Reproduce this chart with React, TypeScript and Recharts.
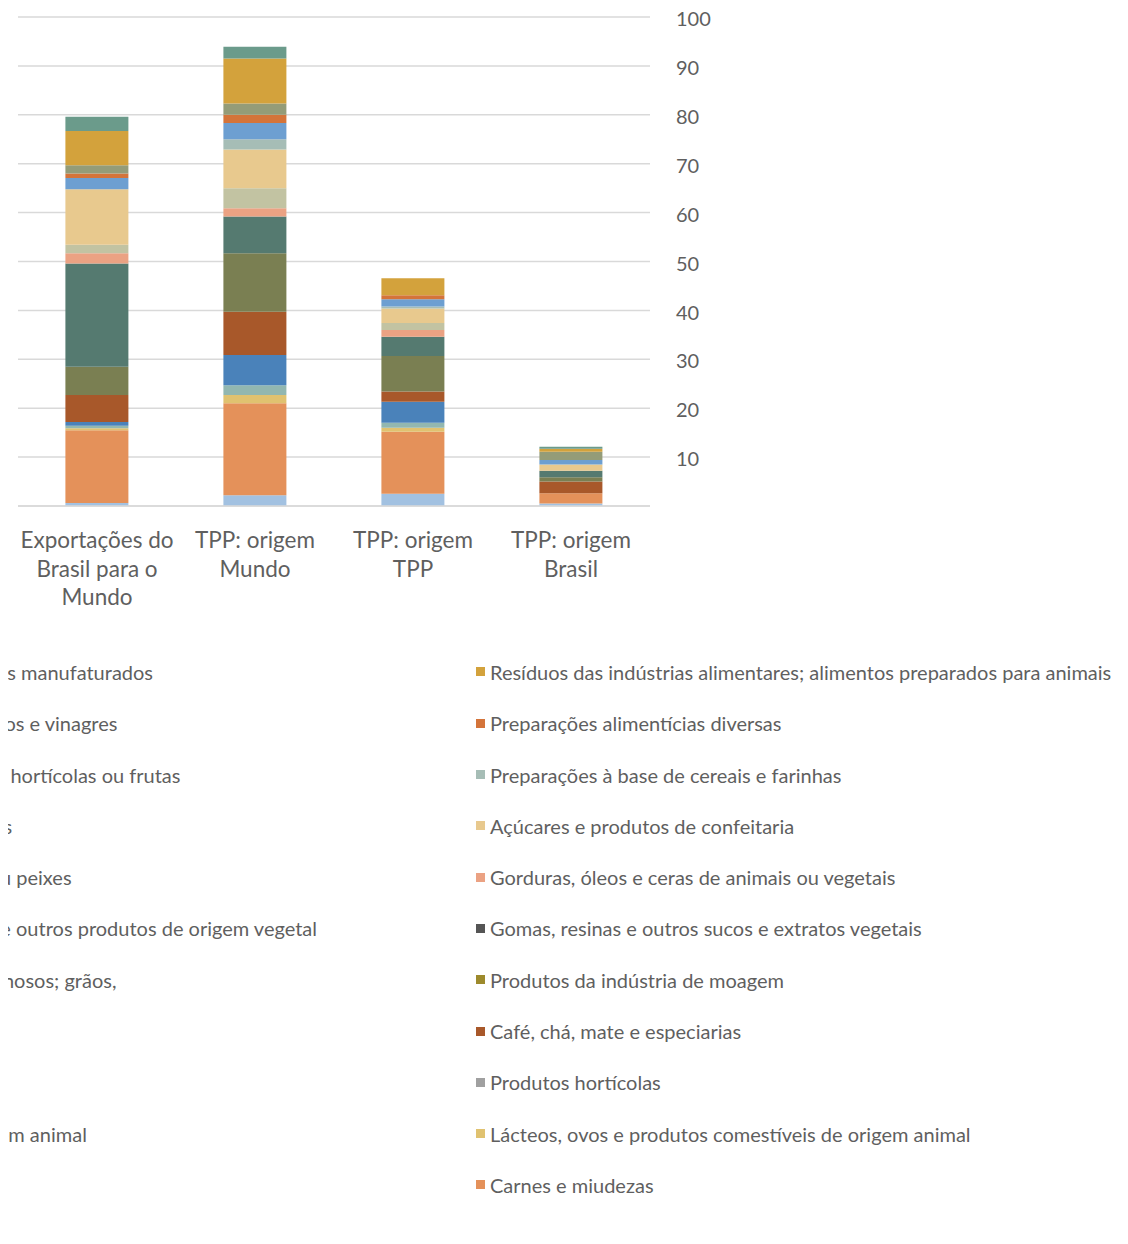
import React from 'react';
import { BarChart, Bar, XAxis, YAxis, CartesianGrid, Legend } from 'recharts';

// Categories (x axis), line breaks as in the original labels
const categories = [
  'Exportações do\nBrasil para o\nMundo',
  'TPP: origem\nMundo',
  'TPP: origem\nTPP',
  'TPP: origem\nBrasil',
];

const yTicks = [10, 20, 30, 40, 50, 60, 70, 80, 90, 100];

// Series in stacking order (bottom to top)
const seriesNames = [
  'Animais vivos',
  'Carnes e miudezas',
  'Peixes',
  'Lácteos, ovos e produtos comestíveis de origem animal',
  'Outros produtos de origem animal',
  'Produtos hortícolas',
  'Frutas',
  'Café, chá, mate e especiarias',
  'Cereais',
  'Produtos da indústria de moagem',
  'Sementes e frutos oleaginosos; grãos,',
  'Gomas, resinas e outros sucos e extratos vegetais',
  'Matérias para entrançar e outros produtos de origem vegetal',
  'Gorduras, óleos e ceras de animais ou vegetais',
  'Preparações de carnes ou peixes',
  'Açúcares e produtos de confeitaria',
  'Cacau e suas preparações',
  'Preparações à base de cereais e farinhas',
  'Preparações de produtos hortícolas ou frutas',
  'Preparações alimentícias diversas',
  'Bebidas, líquidos alcoólicos e vinagres',
  'Resíduos das indústrias alimentares; alimentos preparados para animais',
  'Tabaco e seus sucedâneos manufaturados',
];

const seriesColors = [
  '#A2C1E1',
  '#E4915A',
  '#7FA8C8',
  '#E0C270',
  '#92B7B0',
  '#A0A0A0',
  '#4A82BA',
  '#A8582A',
  '#7A7F52',
  '#9D8A2C',
  '#557A70',
  '#555555',
  '#B5A98A',
  '#EBA283',
  '#C2C3A2',
  '#E8C98E',
  '#C9A070',
  '#A6BDB6',
  '#6D9FD1',
  '#D4743A',
  '#949C78',
  '#D3A23C',
  '#6B9B8B',
];

// Values per category, same order as seriesNames
const exportacoesBrasilMundo = [0.6, 14.9, 0, 0.4, 0.5, 0, 0.8, 5.5, 5.8, 0, 21.1, 0, 0, 2.1, 1.7, 11.4, 0, 0, 2.3, 0.9, 1.7, 7.0, 2.9];
const tppOrigemMundo = [2.2, 18.8, 0, 1.7, 2.0, 0, 6.2, 8.8, 12.0, 0, 7.5, 0, 0, 1.7, 4.1, 7.9, 0, 2.1, 3.3, 1.7, 2.3, 9.2, 2.4];
const tppOrigemTpp = [2.5, 12.7, 0, 0.8, 1.0, 0, 4.3, 2.1, 7.3, 0, 3.9, 0, 0, 1.4, 1.4, 3.0, 0, 0.4, 1.5, 0.8, 0, 3.5, 0];
const tppOrigemBrasil = [0.5, 2.1, 0, 0, 0, 0, 0, 2.4, 0.9, 0, 1.3, 0, 0, 0, 0, 1.3, 0, 0, 0.9, 0, 1.7, 0.6, 0.4];

const valuesByCategory = [exportacoesBrasilMundo, tppOrigemMundo, tppOrigemTpp, tppOrigemBrasil];

const keyOf = (i: number) => `s${i}`;

const data = categories.map((cat, ci) => {
  const row: Record<string, any> = { name: cat };
  seriesNames.forEach((_, si) => {
    row[keyOf(si)] = valuesByCategory[ci][si];
  });
  return row;
});

const TEXT = '#5f5f5f';
const FONT = 'Lato, "Open Sans", sans-serif';

const CategoryTick = (props: any) => {
  const { x, y, payload } = props;
  const lines = String(payload.value).split('\n');
  return (
    <text x={x} y={y} textAnchor="middle" fill={TEXT} fontSize={22.5} fontFamily={FONT}>
      {lines.map((l, i) => (
        <tspan key={i} x={x} dy={i === 0 ? 34 : 28.5}>
          {l}
        </tspan>
      ))}
    </text>
  );
};

const COL_W = 703;
const ROW_H = 51.3;
const MARKER_LEFT = 476;

const renderLegend = (props: any) => {
  const payload: any[] = props.payload || [];
  const items = payload
    .map((p) => ({ name: String(p.value), color: p.color, idx: seriesNames.indexOf(String(p.value)) }))
    .filter((p) => p.idx >= 0)
    .sort((a, b) => b.idx - a.idx);
  return (
    <div
      style={{
        display: 'grid',
        gridTemplateColumns: `${COL_W}px ${COL_W}px`,
        gridAutoRows: `${ROW_H}px`,
        fontFamily: FONT,
        fontSize: 20,
        color: TEXT,
      }}
    >
      {items.map((it) => (
        <div key={it.name} style={{ display: 'flex', alignItems: 'center', whiteSpace: 'nowrap' }}>
          <span style={{ display: 'inline-block', width: 9, height: 9, background: it.color, marginRight: 5, flex: '0 0 auto' }} />
          <span>{it.name}</span>
        </div>
      ))}
    </div>
  );
};

export default function App() {
  return (
    <div style={{ position: 'relative', width: 1128, height: 1244, marginLeft: -8, marginTop: -8, overflow: 'hidden', background: '#fff' }}>
      <BarChart
        width={1128}
        height={1244}
        data={data}
        margin={{ top: 17, left: 18, right: 418, bottom: 628 }}
        barCategoryGap="30%"
        style={{ fontFamily: FONT }}
      >
        <CartesianGrid vertical={false} stroke="#D9D9D9" strokeWidth={1.5} />
        <XAxis
          dataKey="name"
          height={110}
          axisLine={{ stroke: '#D9D9D9', strokeWidth: 1.5 }}
          tickLine={false}
          tick={<CategoryTick />}
          interval={0}
        />
        <YAxis
          orientation="right"
          domain={[0, 100]}
          ticks={yTicks}
          width={60}
          axisLine={false}
          tickLine={false}
          tickMargin={20}
          tick={{ fill: TEXT, fontSize: 20, fontFamily: FONT, dy: 2 }}
        />
        <Legend
          layout="horizontal"
          verticalAlign="middle"
          align="center"
          content={renderLegend}
          wrapperStyle={{ position: 'absolute', top: 672 - ROW_H / 2, left: MARKER_LEFT - COL_W, width: COL_W * 2, height: ROW_H * 12 }}
        />
        {seriesNames.map((n, i) => (
          <Bar key={n} dataKey={keyOf(i)} name={n} stackId="a" fill={seriesColors[i]} isAnimationActive={false} />
        ))}
      </BarChart>
    </div>
  );
}
